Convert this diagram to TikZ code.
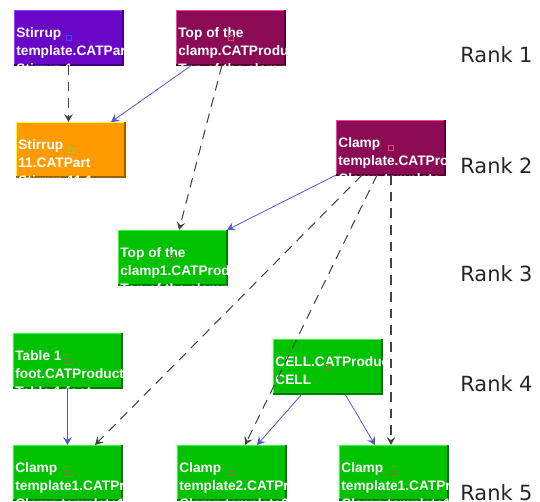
\documentclass[tikz,border=0pt]{standalone}
\usepackage{fontspec}
\usetikzlibrary{arrows.meta}
\newfontfamily\boxfont{Liberation Sans}
\newfontfamily\rankfont{DejaVu Sans}

\definecolor{purplefill}{HTML}{6A06C8}
\definecolor{purplelight}{HTML}{9A44FF}
\definecolor{purpledark}{HTML}{3E0078}
\definecolor{magfill}{HTML}{8C0B55}
\definecolor{maglight}{HTML}{FF3AAE}
\definecolor{magdark}{HTML}{560030}
\definecolor{orangefill}{HTML}{FF9A00}
\definecolor{orangelight}{HTML}{FFFF1A}
\definecolor{orangedark}{HTML}{9A6000}
\definecolor{greenfill}{HTML}{00C200}
\definecolor{greenlight}{HTML}{3CFF3C}
\definecolor{greendark}{HTML}{007A00}
\definecolor{linkgrey}{HTML}{444444}
\definecolor{linkblue}{HTML}{5252D8}
\definecolor{sqblue}{HTML}{3050F0}
\definecolor{sqred}{HTML}{D0506E}
\definecolor{sqlime}{HTML}{A0D030}
\definecolor{sqolive}{HTML}{7F7A45}

\tikzset{
  partbox/.style={rectangle, minimum width=2.16cm, minimum height=1.08cm,
    inner sep=0pt, line width=0.6pt},
  boxtext/.style={anchor=north west, inner sep=0pt, align=left, text=white,
    font=\boxfont\bfseries\fontsize{7.8}{10.2}\selectfont},
  anchorsq/.style={rectangle, minimum size=0.1cm, inner sep=0pt, line width=0.4pt},
  ranklabel/.style={anchor=base west, inner sep=0pt, text=black!85,
    font=\rankfont\fontsize{11.9}{14}\selectfont},
  deplink/.style={-{Stealth[length=4.6pt,width=5pt,inset=1.8pt]}, linkgrey,
    line width=0.6pt, dash pattern=on 5.5pt off 4pt},
  prodlink/.style={-{Stealth[length=4.6pt,width=5pt,inset=1.8pt]}, linkblue,
    line width=0.45pt}
}

% kind, name, top left corner, text, colour of the small square
\newcommand{\partbox}[5]{%
  \node[partbox, fill=#1fill, draw=#1light, anchor=north west] (#2) at (#3) {};
  \draw[#1dark, line width=0.8pt] (#2.south west) -- (#2.south east) -- (#2.north east);
  \begin{scope}
    \clip (#2.south west) rectangle (#2.north east);
    \node[boxtext] at ([shift={(2,17)}]#2.north west) {#4};
  \end{scope}
  \node[anchorsq, draw=#5] at (#2.center) {};
}

\begin{document}
\begin{tikzpicture}[x=0.02cm, y=-0.02cm]
      \useasboundingbox (0,0) rectangle (540,502);

      \partbox{purple}{stirtpl}{14,10}{Stirrup\\template.CATPart\\Stirrup 1}{sqblue}
      \partbox{mag}{clamptop}{176,10}{Top of the\\clamp.CATProduct\\Top of the clamp}{sqred}
      \partbox{orange}{stir11}{16,122}{Stirrup\\11.CATPart\\Stirrup 11.1}{sqlime}
      \partbox{mag}{clamptpl}{336,120}{Clamp\\template.CATProduct\\Clamp template}{sqred}
      \partbox{green}{clamptop1}{118,230}{Top of the\\clamp1.CATProduct\\Top of the clamp1}{sqolive}
      \partbox{green}{tablefoot}{13,333}{Table 1\\foot.CATProduct\\Table 1 foot}{sqolive}
      \partbox{green}{cell}{273,339}{CELL.CATProduct\\CELL}{sqolive}
      \partbox{green}{clampa}{13,445}{Clamp\\template1.CATProduct\\Clamp template1}{sqolive}
      \partbox{green}{clampb}{177,445}{Clamp\\template2.CATProduct\\Clamp template2}{sqolive}
      \partbox{green}{clampc}{339,445}{Clamp\\template1.CATProduct\\Clamp template1}{sqolive}

      \draw[deplink] (stirtpl.south) -- (stirtpl.south |- stir11.north);
      \draw[prodlink] ([shift={(16,0)}]clamptop.south west) -- ([shift={(-14,0)}]stir11.north east);
      \draw[deplink] ([shift={(46,0)}]clamptop.south west) -- ([shift={(61,0)}]clamptop1.north west);
      \draw[prodlink] (clamptpl.south west) -- (clamptop1.north east);

      \draw[deplink] ([shift={(26,0)}]clamptpl.south west) -- ([shift={(82,0)}]clampa.north west);
      \draw[deplink] ([shift={(41,0)}]clamptpl.south west) -- ([shift={(68,0)}]clampb.north west);
      \draw[deplink] ([shift={(55,0)}]clamptpl.south west) -- ([shift={(55,0)}]clamptpl.south west |- clampc.north);

      \draw[prodlink] (tablefoot.south) -- (tablefoot.south |- clampa.north);
      \draw[prodlink] ([shift={(29,0)}]cell.south west) -- ([shift={(80,0)}]clampb.north west);
      \draw[prodlink] ([shift={(72,0)}]cell.south west) -- ([shift={(36,0)}]clampc.north west);

      \node[ranklabel] (rank1) at (460,63) {Rank 1};
      \node[ranklabel] (rank2) at (460,174) {Rank 2};
      \node[ranklabel] (rank3) at (460,282) {Rank 3};
      \node[ranklabel] (rank4) at (460,392) {Rank 4};
      \node[ranklabel] (rank5) at (460,500) {Rank 5};
    \end{tikzpicture}
\end{document}
